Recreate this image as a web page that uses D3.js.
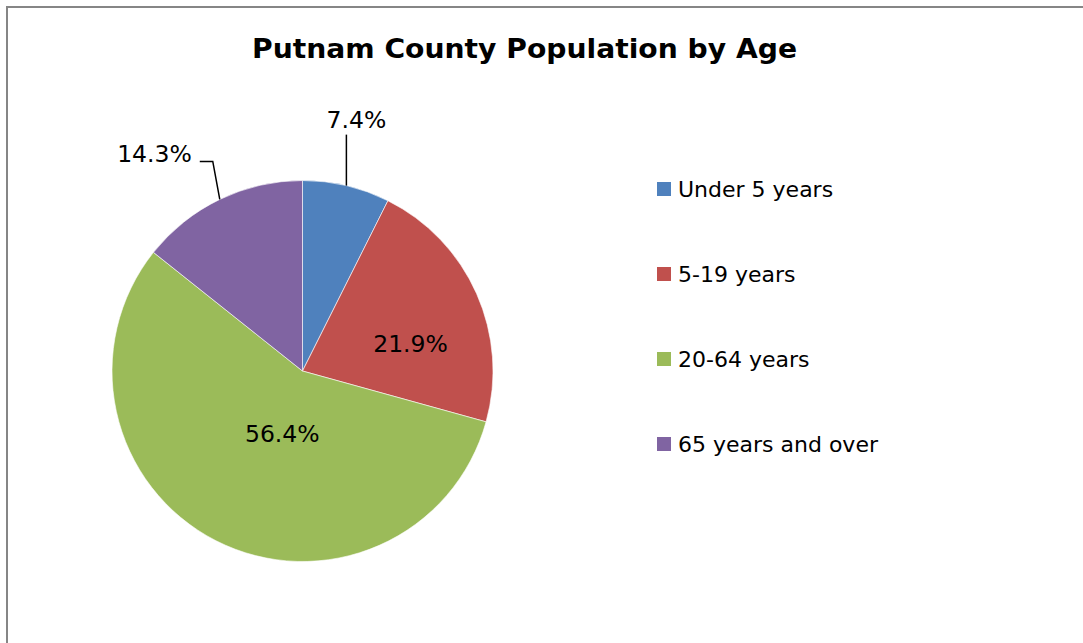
<!DOCTYPE html>
<html>
<head>
<meta charset="utf-8">
<script src="https://cdn.jsdelivr.net/npm/d3@7"></script>
<style>
  html, body { margin: 0; padding: 0; background: #fff; }
  svg { display: block; }
  text { font-family: "DejaVu Sans", Verdana, sans-serif; fill: #000; }
</style>
</head>
<body>
<svg id="chart" width="1083" height="643"></svg>
<script>
// ---- data ----
const title = "Putnam County Population by Age";
const categories = ["Under 5 years", "5-19 years", "20-64 years", "65 years and over"];
const values = [7.4, 21.9, 56.4, 14.3];
const colors = ["#4F81BD", "#C0504D", "#9BBB59", "#8064A2"];

// ---- layout ----
const W = 1083, H = 643;
const cx = 302.5, cy = 371, R = 190.5;
const labelFont = 23.5;
const legendFont = 22;

const svg = d3.select("#chart");

// chart area border (extends beyond the window on right and bottom)
svg.append("rect")
  .attr("x", 7).attr("y", 7)
  .attr("width", W + 20).attr("height", H + 20)
  .attr("fill", "#fff")
  .attr("stroke", "#868686").attr("stroke-width", 2);

// title
svg.append("text")
  .attr("x", 524.5).attr("y", 58)
  .attr("text-anchor", "middle")
  .attr("font-weight", "bold")
  .attr("font-size", 26.5)
  .attr("textLength", 545)
  .attr("lengthAdjust", "spacingAndGlyphs")
  .text(title);

const pie = d3.pie().sort(null).value(d => d.value);
const arcs = pie(categories.map((c, i) => ({ cat: c, value: values[i], color: colors[i] })));
const arc = d3.arc().innerRadius(0).outerRadius(R);

const g = svg.append("g").attr("transform", `translate(${cx},${cy})`);

g.selectAll("path.slice")
  .data(arcs)
  .enter().append("path")
  .attr("class", "slice")
  .attr("d", arc)
  .attr("fill", d => d.data.color)
  .attr("stroke", "#ffffff")
  .attr("stroke-width", 0.6);

const fmt = v => v.toFixed(1) + "%";

// point on outer edge at the slice's mid angle
function edgePoint(d) {
  const a = (d.startAngle + d.endAngle) / 2;
  return [R * Math.sin(a), -R * Math.cos(a)];
}

// label placement: inside (centroid + nudge) or outside (leader line)
const labelLayout = {
  "Under 5 years":     { type: "out", path: [[0, -51]], anchor: "middle", text: [10, -7] },
  "5-19 years":        { type: "in", nudge: [21, 20] },
  "20-64 years":       { type: "in", nudge: [23, -14] },
  "65 years and over": { type: "out", path: [[-7, -38], [-20, -38]], anchor: "end", text: [-8, 1] }
};

arcs.forEach(d => {
  const L = labelLayout[d.data.cat];
  if (L.type === "in") {
    const c = arc.centroid(d);
    g.append("text")
      .attr("x", c[0] + L.nudge[0]).attr("y", c[1] + L.nudge[1])
      .attr("text-anchor", "middle")
      .attr("font-size", labelFont)
      .text(fmt(d.data.value));
  } else {
    const p0 = edgePoint(d);
    const pts = [p0].concat(L.path.map(o => [p0[0] + o[0], p0[1] + o[1]]));
    g.append("path")
      .attr("d", d3.line()(pts))
      .attr("fill", "none")
      .attr("stroke", "#000")
      .attr("stroke-width", 1.5);
    const last = pts[pts.length - 1];
    g.append("text")
      .attr("x", last[0] + L.text[0]).attr("y", last[1] + L.text[1])
      .attr("text-anchor", L.anchor)
      .attr("font-size", labelFont)
      .text(fmt(d.data.value));
  }
});

// legend
const legend = svg.append("g").attr("transform", "translate(657,182)");
const rowGap = 85;
const items = legend.selectAll("g.item")
  .data(categories)
  .enter().append("g")
  .attr("class", "item")
  .attr("transform", (d, i) => `translate(0,${i * rowGap})`);
items.append("rect")
  .attr("width", 14).attr("height", 14)
  .attr("fill", (d, i) => colors[i]);
items.append("text")
  .attr("x", 21).attr("y", 15)
  .attr("font-size", legendFont)
  .text(d => d);
</script>
</body>
</html>
